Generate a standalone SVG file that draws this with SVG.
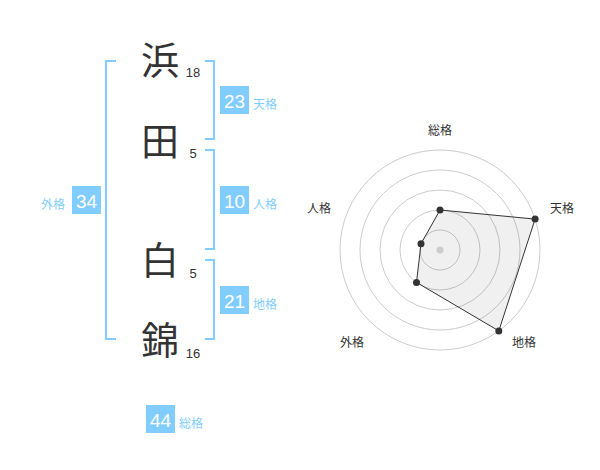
<svg xmlns="http://www.w3.org/2000/svg" width="600" height="470" viewBox="0 0 600 470">
<style>
.kanji{font-family:"Noto Sans CJK JP","Noto Sans CJK SC",sans-serif;font-size:38px;fill:#333;text-anchor:middle}
.stroke{font-family:"Liberation Sans",Arial,sans-serif;font-size:13px;fill:#333;text-anchor:middle}
.br{fill:none;stroke:#82cdff;stroke-width:2}
.box{fill:#82cdff}
.num{font-family:"Liberation Sans",Arial,sans-serif;font-size:19px;fill:#fff;text-anchor:middle}
.lbl{font-family:"Noto Sans CJK JP","Noto Sans CJK SC",sans-serif;font-size:12px;fill:#82cdff}
.ring{fill:none;stroke:#ccc;stroke-width:1}
.rl{font-family:"Noto Sans CJK JP","Noto Sans CJK SC",sans-serif;font-size:12px;fill:#333;text-anchor:middle}
.pt{fill:#333}
</style>
<g id="name">
<g id="c1"><text class="kanji" x="160" y="74">浜</text><text class="stroke" x="193" y="77">18</text></g>
<g id="c2"><text class="kanji" x="160" y="155">田</text><text class="stroke" x="193" y="158">5</text></g>
<g id="c3"><text class="kanji" x="160" y="274">白</text><text class="stroke" x="193" y="278">5</text></g>
<g id="c4"><text class="kanji" x="160" y="354">錦</text><text class="stroke" x="193" y="358">16</text></g>
</g>
<g id="connectors">
<polyline class="br" points="116,61 106,61 106,339 116,339"/>
<polyline class="br" points="205,61 214,61 214,139 205,139"/>
<polyline class="br" points="205,150 214,150 214,249 205,249"/>
<polyline class="br" points="205,260 214,260 214,339 205,339"/>
</g>
<g id="tenkaku"><rect class="box" x="220" y="86" width="29" height="28"/><text class="num" x="234.5" y="108">23</text><text class="lbl" x="253" y="109">天格</text></g>
<g id="jinkaku"><rect class="box" x="220" y="186" width="29" height="28"/><text class="num" x="234.5" y="208">10</text><text class="lbl" x="253" y="209">人格</text></g>
<g id="chikaku"><rect class="box" x="220" y="286" width="29" height="28"/><text class="num" x="234.5" y="308">21</text><text class="lbl" x="253" y="309">地格</text></g>
<g id="gaikaku"><rect class="box" x="72" y="186" width="29" height="28"/><text class="num" x="86.5" y="208">34</text><text class="lbl" x="41" y="209">外格</text></g>
<g id="soukaku"><rect class="box" x="146" y="405" width="29" height="28"/><text class="num" x="160.5" y="427">44</text><text class="lbl" x="179" y="428">総格</text></g>
<g id="radar">
<circle class="ring" cx="440" cy="250" r="20"/>
<circle class="ring" cx="440" cy="250" r="40"/>
<circle class="ring" cx="440" cy="250" r="60"/>
<circle class="ring" cx="440" cy="250" r="80"/>
<circle class="ring" cx="440" cy="250" r="100"/>
<polygon points="440,210 535.1,219.1 498.8,330.9 416.5,282.4 421,243.8" fill="#000" fill-opacity="0.06" stroke="#333" stroke-width="1"/>
<circle cx="440" cy="250" r="3.5" fill="#ccc"/>
<circle class="pt" cx="440" cy="210" r="3.5"/>
<circle class="pt" cx="535.1" cy="219.1" r="3.5"/>
<circle class="pt" cx="498.8" cy="330.9" r="3.5"/>
<circle class="pt" cx="416.5" cy="282.4" r="3.5"/>
<circle class="pt" cx="421" cy="243.8" r="3.5"/>
<text class="rl" x="440" y="135">総格</text>
<text class="rl" x="562" y="213">天格</text>
<text class="rl" x="524" y="347">地格</text>
<text class="rl" x="352" y="347">外格</text>
<text class="rl" x="319" y="213">人格</text>
</g>
</svg>
